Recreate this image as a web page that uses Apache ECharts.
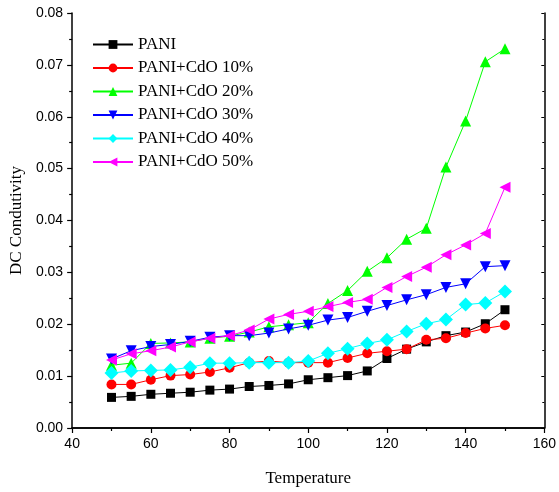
<!DOCTYPE html>
<html>
<head>
<meta charset="utf-8">
<script src="https://cdn.jsdelivr.net/npm/echarts@6/dist/echarts.min.js"></script>
<style>
  html, body { margin: 0; padding: 0; background: #fff; }
  #chart { width: 559px; height: 492px; }
</style>
</head>
<body>
<div id="chart"></div>
<script>
// Temperature steps (x) and DC conductivity for each sample
const temperature = [50, 55, 60, 65, 70, 75, 80, 85, 90, 95, 100, 105, 110, 115, 120, 125, 130, 135, 140, 145, 150];
const pani   = [0.0059, 0.0061, 0.0065, 0.0067, 0.0069, 0.0073, 0.0075, 0.0080, 0.0082, 0.0085, 0.0093, 0.0097, 0.0101, 0.0110, 0.0134, 0.0152, 0.0166, 0.0178, 0.0185, 0.0201, 0.0228];
const cdo10  = [0.0084, 0.0084, 0.0093, 0.0101, 0.0103, 0.0108, 0.0116, 0.0126, 0.0129, 0.0126, 0.0126, 0.0126, 0.0135, 0.0144, 0.0148, 0.0152, 0.0170, 0.0173, 0.0183, 0.0192, 0.0198];
const cdo20  = [0.0121, 0.0125, 0.0163, 0.0164, 0.0166, 0.0173, 0.0177, 0.0185, 0.0195, 0.0199, 0.0203, 0.0240, 0.0265, 0.0302, 0.0328, 0.0364, 0.0385, 0.0503, 0.0592, 0.0706, 0.0731];
const cdo30  = [0.0133, 0.0149, 0.0157, 0.0161, 0.0167, 0.0175, 0.0178, 0.0178, 0.0183, 0.0191, 0.0198, 0.0208, 0.0213, 0.0225, 0.0236, 0.0247, 0.0257, 0.0271, 0.0278, 0.0311, 0.0313];
const cdo40  = [0.0106, 0.0110, 0.0111, 0.0112, 0.0117, 0.0125, 0.0125, 0.0126, 0.0126, 0.0126, 0.0129, 0.0144, 0.0153, 0.0163, 0.0170, 0.0186, 0.0201, 0.0209, 0.0238, 0.0241, 0.0263];
const cdo50  = [0.0131, 0.0143, 0.0149, 0.0156, 0.0166, 0.0173, 0.0178, 0.0189, 0.0210, 0.0219, 0.0225, 0.0234, 0.0242, 0.0248, 0.0271, 0.0292, 0.0310, 0.0334, 0.0353, 0.0375, 0.0464];

const seriesNames = ['PANI', 'PANI+CdO 10%', 'PANI+CdO 20%', 'PANI+CdO 30%', 'PANI+CdO 40%', 'PANI+CdO 50%'];
const seriesValues = [pani, cdo10, cdo20, cdo30, cdo40, cdo50];
const colors = ['#000000', '#ff0000', '#00ff00', '#0000ff', '#00ffff', '#ff00ff'];
const symbols = ['rect', 'circle', 'triangle', 'triangle', 'diamond', 'triangle'];
const rotations = [0, 0, 0, 180, 0, 90];
const sizes = [9, 10, 11, 11, 14, 11];

const tickFont = { fontFamily: 'Liberation Sans', fontSize: 14, color: '#000' };
const serif = 'Liberation Serif';

const series = seriesNames.map((name, i) => ({
  name,
  type: 'line',
  data: temperature.map((t, j) => [t, seriesValues[i][j]]),
  symbol: symbols[i],
  symbolRotate: rotations[i],
  symbolSize: sizes[i],
  showAllSymbol: true,
  lineStyle: { color: colors[i], width: 1 },
  itemStyle: { color: colors[i] },
  emphasis: { disabled: true },
  animation: false,
  z: 2 + i
}));

const chart = echarts.init(document.getElementById('chart'), null, { renderer: 'canvas' });
chart.setOption({
  backgroundColor: '#fff',
  animation: false,
  grid: { left: 70, right: 11, top: 13, bottom: 60, containLabel: false },
  legend: {
    orient: 'vertical',
    left: 87,
    top: 31,
    itemWidth: 40,
    itemHeight: 11,
    itemGap: 6.5,
    textStyle: { fontFamily: serif, fontSize: 17, color: '#000' },
    data: seriesNames
  },
  xAxis: [{
    type: 'value',
    min: 40, max: 160, interval: 20,
    name: 'Temperature',
    nameLocation: 'middle',
    nameGap: 42,
    nameTextStyle: { fontFamily: serif, fontSize: 17, color: '#000' },
    axisLine: { lineStyle: { color: '#000', width: 1.5 } },
    axisTick: { inside: false, length: 5, lineStyle: { color: '#000', width: 1.2 } },
    minorTick: { show: true, splitNumber: 2, length: 3, lineStyle: { color: '#000', width: 1.2 } },
    axisLabel: Object.assign({ margin: 9 }, tickFont),
    splitLine: { show: false }
  }, {
    type: 'value',
    position: 'top',
    min: 40, max: 160, interval: 20,
    axisLine: { show: true, lineStyle: { color: '#000', width: 1.5 } },
    axisTick: { inside: true, length: 3, lineStyle: { color: '#000', width: 1 } },
    minorTick: { show: true, splitNumber: 2, length: 2, lineStyle: { color: '#000', width: 1 } },
    axisLabel: { show: false },
    splitLine: { show: false }
  }],
  yAxis: [{
    type: 'value',
    min: 0, max: 0.08, interval: 0.01,
    name: 'DC Condutivity',
    nameLocation: 'middle',
    nameGap: 46,
    nameTextStyle: { fontFamily: serif, fontSize: 17, color: '#000' },
    axisLine: { show: true, lineStyle: { color: '#000', width: 1.5 } },
    axisTick: { show: true, inside: false, length: 5, lineStyle: { color: '#000', width: 1.2 } },
    minorTick: { show: true, splitNumber: 2, length: 3, lineStyle: { color: '#000', width: 1.2 } },
    axisLabel: Object.assign({ margin: 9, formatter: v => v.toFixed(2) }, tickFont),
    splitLine: { show: false }
  }, {
    type: 'value',
    position: 'right',
    min: 0, max: 0.08, interval: 0.01,
    axisLine: { show: true, lineStyle: { color: '#000', width: 1.5 } },
    axisTick: { show: true, inside: true, length: 3, lineStyle: { color: '#000', width: 1 } },
    minorTick: { show: true, splitNumber: 2, length: 2, lineStyle: { color: '#000', width: 1 } },
    axisLabel: { show: false },
    splitLine: { show: false }
  }],
  series
});
</script>
</body>
</html>
